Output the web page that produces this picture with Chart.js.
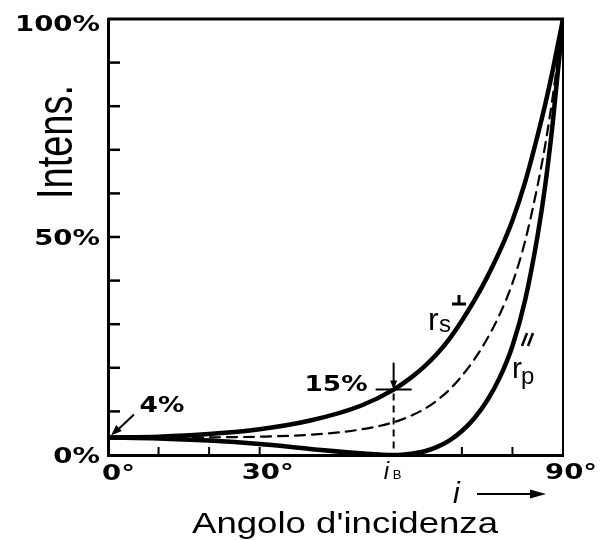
<!DOCTYPE html>
<html>
<head>
<meta charset="utf-8">
<script src="https://cdn.jsdelivr.net/npm/chart.js@4.4.1/dist/chart.umd.min.js"></script>
<style>
  html, body { margin: 0; padding: 0; background: #fff; }
  #wrap { width: 607px; height: 540px; }
</style>
</head>
<body>
<div id="wrap"><canvas id="chart" width="607" height="540"></canvas></div>
<script>
// --- data (reflectance vs angle of incidence) ---
const angles    = [0, 10, 20, 30, 40, 50, 56.5, 60, 62.5, 65, 67.5, 70, 72.5, 75, 77.5, 80, 82.5, 85, 86.5, 88, 90];
const rsValues  = [4, 4.2, 4.8, 5.9, 7.9, 11.3, 15, 17.8, 20.2, 23.1, 26.6, 30.8, 35.5, 40.8, 46.8, 53.8, 62.6, 73.4, 80.5, 88.4, 100];
const rpValues  = [4, 3.8, 3.3, 2.5, 1.4, 0.4, 0, 0.3, 0.8, 1.8, 3.3, 5.5, 8.5, 12.5, 17.8, 25, 35.5, 50.5, 62, 76.5, 100];
const avgValues = [4, 4.0, 4.05, 4.2, 4.65, 5.85, 7.5, 9.05, 10.5, 12.45, 14.95, 18.15, 22, 26.65, 32.3, 39.4, 49.05, 61.95, 71.25, 82.45, 100];

const yTicks = [0, 10, 20, 30, 40, 50, 60, 70, 80, 90, 100];
const yLabels = { 0: '0%', 50: '50%', 100: '100%' };
const xMinorTicks = [10, 20, 30, 70, 80];
const xLabels = [[0, '0°'], [30, '30°'], [90, '90°']];
const brewster = 56.5;
const brewsterValue = 15;

const pts = vals => angles.map((a, i) => ({ x: a, y: vals[i] }));

// stretched bold label font, like the old typewriter figure
function label(ctx, text, x, y, align, sx) {
  ctx.save();
  ctx.font = 'bold 22px "DejaVu Sans"';
  ctx.textBaseline = 'middle';
  const w = ctx.measureText(text).width * sx;
  let left = x;
  if (align === 'right') left = x - w;
  if (align === 'center') left = x - w / 2;
  ctx.translate(left, y);
  ctx.scale(sx, 1);
  ctx.textAlign = 'left';
  ctx.fillText(text, 0, 0);
  ctx.restore();
}

function arrowHead(ctx, x, y, ang, len, wid) {
  ctx.save();
  ctx.translate(x, y);
  ctx.rotate(ang);
  ctx.beginPath();
  ctx.moveTo(0, 0);
  ctx.lineTo(-len, -wid / 2);
  ctx.lineTo(-len, wid / 2);
  ctx.closePath();
  ctx.fill();
  ctx.restore();
}

const figurePlugin = {
  id: 'figure',
  afterDraw(chart) {
    const { ctx, chartArea: a, scales: { x, y } } = chart;
    ctx.save();
    ctx.strokeStyle = '#000';
    ctx.fillStyle = '#000';
    ctx.lineCap = 'butt';

    // top and right frame
    ctx.lineWidth = 3;
    ctx.beginPath();
    ctx.moveTo(a.left, a.top); ctx.lineTo(a.right + 1, a.top);
    ctx.stroke();
    ctx.lineWidth = 2;
    ctx.beginPath();
    ctx.moveTo(a.right, a.top); ctx.lineTo(a.right, a.bottom);
    ctx.stroke();

    // inward ticks
    ctx.lineWidth = 2.5;
    yTicks.slice(1, -1).forEach(v => {
      const py = y.getPixelForValue(v);
      ctx.beginPath(); ctx.moveTo(a.left, py); ctx.lineTo(a.left + 12, py); ctx.stroke();
    });
    ctx.lineWidth = 2;
    xMinorTicks.forEach(v => {
      const px = x.getPixelForValue(v);
      ctx.beginPath(); ctx.moveTo(px, a.bottom); ctx.lineTo(px, a.bottom - 8); ctx.stroke();
    });

    // axis labels
    Object.keys(yLabels).forEach(v => {
      label(ctx, yLabels[v], a.left - 8, y.getPixelForValue(+v) + (v == 100 ? 6 : 2), 'right', 1.25);
    });
    xLabels.forEach(([v, t]) => {
      const px = x.getPixelForValue(v);
      if (v === 0) label(ctx, t, px - 6, a.bottom + 19, 'left', 1.25);
      else label(ctx, t, px + 8, a.bottom + 18, 'center', 1.25);
    });

    // i_B label
    const bx = x.getPixelForValue(brewster);
    ctx.font = 'italic 24px "Liberation Sans"';
    ctx.textBaseline = 'alphabetic';
    ctx.textAlign = 'left';
    ctx.fillText('i', bx - 10, a.bottom + 24);
    ctx.font = '13px "Liberation Sans"';
    ctx.fillText('B', bx - 1, a.bottom + 24);

    // Brewster crosshair and 15 %
    const by = y.getPixelForValue(brewsterValue);
    ctx.lineWidth = 2;
    ctx.beginPath(); ctx.moveTo(bx - 18, by); ctx.lineTo(bx + 18, by); ctx.stroke();
    ctx.beginPath(); ctx.moveTo(bx, by - 27); ctx.lineTo(bx, by - 4); ctx.stroke();
    arrowHead(ctx, bx, by, Math.PI / 2, 9, 7);
    ctx.setLineDash([7, 5]);
    ctx.beginPath(); ctx.moveTo(bx, by + 4); ctx.lineTo(bx, a.bottom); ctx.stroke();
    ctx.setLineDash([]);
    label(ctx, '15%', bx - 26, by - 4, 'right', 1.2);

    // 4 % with arrow to the axis
    const fy = y.getPixelForValue(4);
    label(ctx, '4%', a.left + 54, fy - 31, 'center', 1.2);
    ctx.lineWidth = 2;
    ctx.beginPath(); ctx.moveTo(a.left + 26, fy - 23); ctx.lineTo(a.left + 8, fy - 6); ctx.stroke();
    arrowHead(ctx, a.left + 3, fy - 2, Math.atan2(17, -18), 11, 8);

    // curve names
    ctx.textBaseline = 'alphabetic';
    ctx.font = '32px "Liberation Sans"';
    ctx.fillText('r', 428, 330);
    ctx.font = '24px "Liberation Sans"';
    ctx.fillText('s', 439, 332);
    ctx.lineWidth = 3;
    ctx.beginPath(); ctx.moveTo(452, 304); ctx.lineTo(466, 304); ctx.moveTo(459, 295); ctx.lineTo(459, 304); ctx.stroke();

    ctx.font = '30px "Liberation Sans"';
    ctx.fillText('r', 512, 378);
    ctx.font = '24px "Liberation Sans"';
    ctx.fillText('p', 521, 384);
    ctx.lineWidth = 2.5;
    ctx.beginPath();
    ctx.moveTo(527, 333); ctx.lineTo(522, 346);
    ctx.moveTo(533, 333); ctx.lineTo(528, 346);
    ctx.stroke();

    // i -> arrow
    ctx.font = 'italic 30px "Liberation Sans"';
    ctx.fillText('i', 453, 503);
    ctx.lineWidth = 2;
    ctx.beginPath(); ctx.moveTo(477, 494); ctx.lineTo(535, 494); ctx.stroke();
    arrowHead(ctx, 546, 494, 0, 16, 9);

    // axis titles
    ctx.font = '30px "Liberation Sans"';
    const title = "Angolo d'incidenza";
    const tw = ctx.measureText(title).width;
    ctx.save();
    ctx.translate(192, 533);
    ctx.scale(306 / tw, 1);
    ctx.fillText(title, 0, 0);
    ctx.restore();

    ctx.font = '50px "Liberation Sans"';
    const yw = ctx.measureText('Intens.').width;
    ctx.save();
    ctx.translate(72, 199);
    ctx.rotate(-Math.PI / 2);
    ctx.scale(114 / yw, 1);
    ctx.fillText('Intens.', 0, 0);
    ctx.restore();

    ctx.restore();
  }
};

new Chart(document.getElementById('chart'), {
  type: 'line',
  data: {
    datasets: [
      { label: 'rs', data: pts(rsValues), borderColor: '#000', borderWidth: 4.5 },
      { label: 'rp', data: pts(rpValues), borderColor: '#000', borderWidth: 4.5 },
      { label: 'media', data: pts(avgValues), borderColor: '#000', borderWidth: 2.2, borderDash: [10, 7] },
    ],
  },
  options: {
    responsive: false,
    animation: false,
    events: [],
    layout: { padding: { left: 108, top: 19, right: 44, bottom: 85 } },
    elements: {
      point: { radius: 0 },
      line: { cubicInterpolationMode: 'monotone', fill: false, borderCapStyle: 'round', borderJoinStyle: 'round' },
    },
    plugins: { legend: { display: false }, tooltip: { enabled: false } },
    scales: {
      x: {
        type: 'linear', min: 0, max: 90,
        ticks: { display: false },
        grid: { display: false, drawTicks: false },
        border: { display: true, color: '#000', width: 3 },
        afterFit: s => { s.height = 0; },
      },
      y: {
        min: 0, max: 100,
        ticks: { display: false },
        grid: { display: false, drawTicks: false },
        border: { display: true, color: '#000', width: 3 },
        afterFit: s => { s.width = 0; },
      },
    },
  },
  plugins: [figurePlugin],
});
</script>
</body>
</html>
